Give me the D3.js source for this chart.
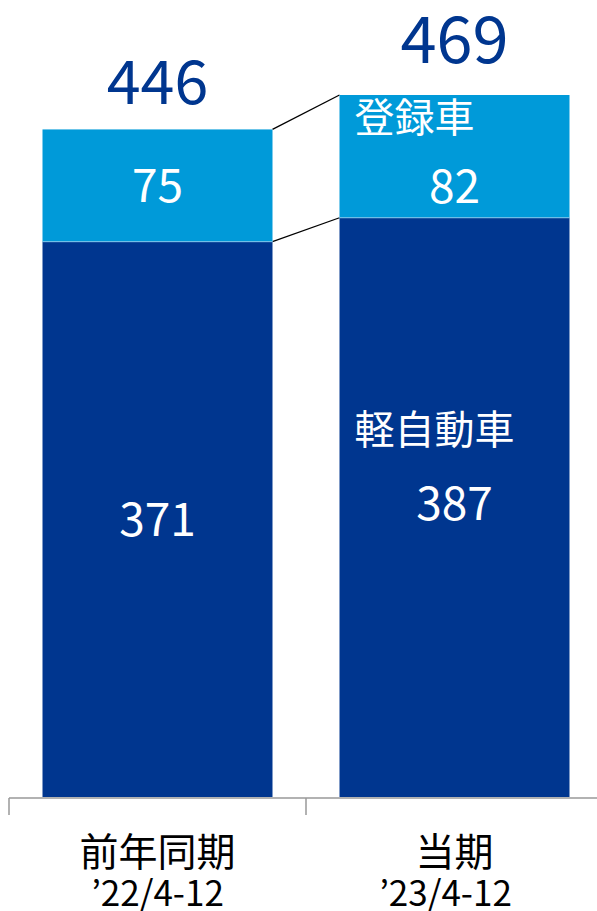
<!DOCTYPE html>
<html>
<head>
<meta charset="utf-8">
<script src="https://cdn.jsdelivr.net/npm/d3@7"></script>
<style>
  body { margin: 0; background: #fff; }
  text { font-family: "Noto Sans CJK JP", sans-serif; }
</style>
</head>
<body>
<svg id="chart" width="597" height="911"></svg>
<script>
var periods = ["前年同期", "当期"];
var periodSub = ["’22/4-12", "’23/4-12"];
var keiValues = [371, 387];      // 軽自動車
var tourokuValues = [75, 82];    // 登録車
var totals = [446, 469];

var svg = d3.select("#chart");
var baseY = 797;

var x = d3.scaleBand()
    .domain(periods)
    .range([9, 603])
    .paddingInner(0.2256)
    .paddingOuter(0.1128);

var y = d3.scaleLinear()
    .domain([0, 469])
    .range([baseY, 95]);

var data = periods.map(function(p, i) {
    return { p: p, kei: keiValues[i], touroku: tourokuValues[i], total: totals[i] };
});
var mid = function(d) { return x(d.p) + x.bandwidth() / 2; };

// connector lines between bars
var x0 = x(periods[0]) + x.bandwidth(), x1 = x(periods[1]);
[[data[0].total, data[1].total], [data[0].kei, data[1].kei]].forEach(function(v) {
    svg.append("line")
        .attr("x1", x0).attr("y1", y(v[0]))
        .attr("x2", x1).attr("y2", y(v[1]))
        .attr("stroke", "#000").attr("stroke-width", 1.3);
});

// bars
var g = svg.selectAll(".bar").data(data).enter().append("g");
g.append("rect")
    .attr("x", function(d) { return x(d.p); })
    .attr("width", x.bandwidth())
    .attr("y", function(d) { return y(d.kei); })
    .attr("height", function(d) { return baseY - y(d.kei); })
    .attr("fill", "#00368f");
g.append("rect")
    .attr("x", function(d) { return x(d.p); })
    .attr("width", x.bandwidth())
    .attr("y", function(d) { return y(d.total); })
    .attr("height", function(d) { return y(d.kei) - y(d.total); })
    .attr("fill", "#009ad9");
g.append("line")
    .attr("x1", function(d) { return x(d.p); })
    .attr("x2", function(d) { return x(d.p) + x.bandwidth(); })
    .attr("y1", function(d) { return y(d.kei); })
    .attr("y2", function(d) { return y(d.kei); })
    .attr("stroke", "#7fc6ea").attr("stroke-width", 1);

// totals
g.append("text")
    .attr("x", mid)
    .attr("y", function(d, i) { return y(d.total) - (i === 0 ? 25 : 32); })
    .attr("text-anchor", "middle")
    .attr("font-size", function(d, i) { return i === 0 ? 61 : 65; })
    .attr("fill", "#00368f")
    .text(function(d) { return d.total; });

// segment values
g.append("text")
    .attr("x", mid)
    .attr("y", function(d, i) { return i === 0 ? (y(d.total) + y(d.kei)) / 2 : y(d.kei) - 31; })
    .attr("dy", "0.36em")
    .attr("text-anchor", "middle")
    .attr("font-size", 46)
    .attr("fill", "#fff")
    .text(function(d) { return d.touroku; });
g.append("text")
    .attr("x", mid)
    .attr("y", function(d, i) { return (y(d.kei) + baseY) / 2 - (i === 0 ? 0 : 4); })
    .attr("dy", "0.36em")
    .attr("text-anchor", "middle")
    .attr("font-size", 46)
    .attr("fill", "#fff")
    .text(function(d) { return d.kei; });

// series names in current bar
var bx = x(periods[1]) + 15;
svg.append("text")
    .attr("x", bx).attr("y", y(data[1].total) + 23)
    .attr("dy", "0.36em")
    .attr("font-size", 40).attr("fill", "#fff")
    .text("登録車");
svg.append("text")
    .attr("x", bx).attr("y", 430)
    .attr("dy", "0.36em")
    .attr("font-size", 40).attr("fill", "#fff")
    .text("軽自動車");

// axis
var step = x.step();
var axis = svg.append("g").attr("stroke", "#999").attr("stroke-width", 1.5);
axis.append("line").attr("x1", 9).attr("x2", 603).attr("y1", baseY + 1).attr("y2", baseY + 1);
[0, 1, 2].forEach(function(i) {
    var tx = 9 + i * step;
    axis.append("line").attr("x1", tx).attr("x2", tx).attr("y1", baseY + 1).attr("y2", baseY + 18);
});

// category labels
g.append("text")
    .attr("x", mid)
    .attr("y", 866)
    .attr("text-anchor", "middle")
    .attr("font-size", 39)
    .attr("fill", "#000")
    .text(function(d) { return d.p; });
g.append("text")
    .attr("x", function(d, i) { return mid(d) - (i === 0 ? 0 : 9); })
    .attr("y", 906)
    .attr("text-anchor", "middle")
    .attr("font-size", 35)
    .attr("fill", "#000")
    .text(function(d, i) { return periodSub[i]; });
</script>
</body>
</html>
